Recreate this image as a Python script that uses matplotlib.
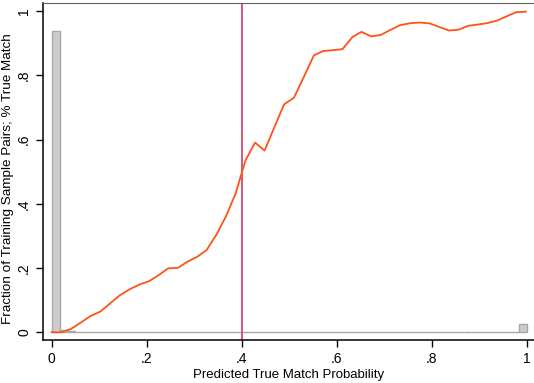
import matplotlib
matplotlib.use("Agg")
import matplotlib.pyplot as plt
import numpy as np

plt.rcParams['font.family'] = ['Liberation Sans', 'DejaVu Sans']

# fraction of true matches by predicted probability
prob = [0.000, 0.020, 0.040, 0.061, 0.082, 0.103, 0.123, 0.143, 0.164, 0.185,
        0.205, 0.225, 0.245, 0.266, 0.287, 0.306, 0.326, 0.347, 0.367, 0.387,
        0.408, 0.428, 0.448, 0.469, 0.489, 0.510, 0.531, 0.552, 0.571, 0.592,
        0.612, 0.633, 0.652, 0.672, 0.692, 0.713, 0.733, 0.755, 0.775, 0.796,
        0.816, 0.836, 0.857, 0.877, 0.898, 0.916, 0.937, 0.957, 0.977, 0.998]
true_match = [0.000, 0.000, 0.010, 0.030, 0.051, 0.065, 0.090, 0.115, 0.134, 0.149,
              0.159, 0.178, 0.199, 0.201, 0.221, 0.235, 0.256, 0.305, 0.362, 0.432,
              0.536, 0.591, 0.566, 0.640, 0.710, 0.731, 0.797, 0.863, 0.876, 0.879,
              0.882, 0.920, 0.936, 0.922, 0.926, 0.942, 0.957, 0.963, 0.965, 0.962,
              0.951, 0.940, 0.943, 0.955, 0.959, 0.963, 0.971, 0.984, 0.997, 0.999]

# histogram of training pairs, 60 bins on [0, 1]
n_bins = 60
frac = [0.94, 0.008, 0.004, 0.002] + [0.0004] * 55 + [0.025]

threshold = 0.4

fig = plt.figure(figsize=(5.34, 3.83), dpi=100)
ax = fig.add_axes([0.0805, 0.1123, 0.9195, 0.88])

edges = np.linspace(0, 1, n_bins + 1)
ax.bar(edges[:-1], frac, width=1.0 / n_bins, align='edge',
       color='#cccccc', edgecolor='#a8a8a8', linewidth=1.0, zorder=1)
ax.axvline(threshold, color='#d9486b', linewidth=1.3, zorder=2)
ax.plot(prob, true_match, color='#ff5219', linewidth=1.3, zorder=3)

ax.set_xlim(-0.0183, 1.015)
ax.set_ylim(-0.024, 1.026)

ticks = [0, 0.2, 0.4, 0.6, 0.8, 1.0]
tick_labels = ['0', '.2', '.4', '.6', '.8', '1']
ax.set_xticks(ticks)
ax.set_xticklabels(tick_labels)
ax.set_yticks(ticks)
ax.set_yticklabels(tick_labels, rotation=90, va='center')
ax.tick_params(direction='out', length=5, width=1, labelsize=10, colors='black')

ax.spines['right'].set_visible(False)
ax.spines['top'].set_color('#606060')
ax.spines['left'].set_linewidth(1.1)
ax.spines['bottom'].set_linewidth(1.1)

ax.set_xlabel('Predicted True Match Probability', fontsize=9.5, labelpad=2)
ax.set_ylabel('Fraction of Training Sample Pairs; % True Match', fontsize=9.7, labelpad=3)
ax.yaxis.set_label_coords(-0.06, 0.48)

fig.savefig('out.png', dpi=100)
